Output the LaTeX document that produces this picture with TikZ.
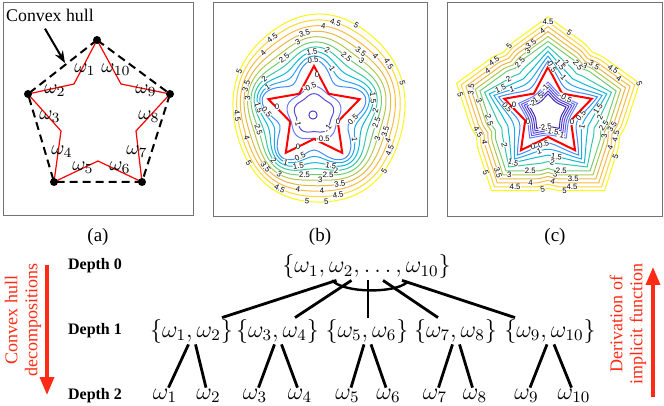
\documentclass[tikz,border=0pt]{standalone}
\usepackage{fontspec}
\setmainfont{Liberation Serif}
\newfontfamily\labfont{Liberation Sans}
\usetikzlibrary{calc,arrows.meta}
\definecolor{hred}{rgb}{1,0.17,0.08}
\definecolor{c1}{rgb}{0.25,0.55,0.98}
\definecolor{c2}{rgb}{0.12,0.65,0.92}
\definecolor{c3}{rgb}{0.05,0.73,0.82}
\definecolor{c4}{rgb}{0.20,0.78,0.65}
\definecolor{c5}{rgb}{0.45,0.80,0.45}
\definecolor{c6}{rgb}{0.70,0.78,0.30}
\definecolor{c7}{rgb}{0.90,0.72,0.28}
\definecolor{c8}{rgb}{0.99,0.73,0.25}
\definecolor{c9}{rgb}{0.99,0.85,0.18}
\definecolor{c10}{rgb}{0.98,0.97,0.08}
\definecolor{m1}{rgb}{0.42,0.48,1.00}
\definecolor{m2}{rgb}{0.38,0.38,0.95}
\definecolor{m3}{rgb}{0.33,0.30,0.88}
\definecolor{m4}{rgb}{0.30,0.22,0.80}
\definecolor{m5}{rgb}{0.26,0.16,0.70}
\tikzset{
  cline/.style={line width=0.5pt},
  clab/.style={font=\labfont\fontsize{3.9}{3.9}\selectfont, fill=white, inner sep=0.1pt},
  frame/.style={draw=black!55, line width=0.5pt},
  starline/.style={draw=red, line width=1pt, line join=miter},
  tedge/.style={line width=1.4pt},
  tmath/.style={font=\fontsize{11.5}{13}\selectfont, inner sep=0.5pt},
  amath/.style={font=\fontsize{9.8}{11}\selectfont, inner sep=0pt},
  depthlab/.style={font=\bfseries\fontsize{8}{9}\selectfont},
  sublab/.style={font=\fontsize{9.5}{11}\selectfont},
  htext/.style={font=\fontsize{8.9}{10}\selectfont, inner sep=1pt},
  hullarrow/.style={line width=1pt, -{Stealth[length=6pt,width=4.5pt]}},
  redarrow/.style={draw=hred, line width=1.8pt, -{Triangle[length=9pt,width=7pt]}},
  redtext/.style={text=hred, font=\fontsize{9}{10}\selectfont, align=center, rotate=90},
}
\newcommand\clab[5]{%
  \pgfmathsetmacro\tanx{#1(#3,#4+3)-#1(#3,#4-3)}%
  \pgfmathsetmacro\tany{#2(#3,#4-3)-#2(#3,#4+3)}%
  \pgfmathsetmacro\lang{atan2(\tany,\tanx)}%
  \pgfmathsetmacro\lang{\lang>90 ? \lang-180 : (\lang<-90 ? \lang+180 : \lang)}%
  \node[clab,rotate=\lang] at ({#1(#3,#4)},{#2(#3,#4)}) {#5};%
}
\newcommand\starshape[4]{%
  \draw[starline] ({#1},{#2-#3}) \foreach \ii in {1,...,9} { -- ({#1+(isodd(\ii)?#4:#3)*cos(90+36*\ii)},{#2-(isodd(\ii)?#4:#3)*sin(90+36*\ii)}) } -- cycle;%
}
\begin{document}
\begin{tikzpicture}[x=0.5pt,y=-0.5pt,
  declare function={
    rb(\k,\p)=(45+5*(\k-1))*(1+0.2*pow(0.72,\k-1)*cos(5*(\p-90)));
    bx(\k,\p)=314+5*(\k-1)/9+(1-0.045*(\k-1)/9)*rb(\k,\p)*cos(\p);
    by(\k,\p)=114-5*(\k-1)/9-(1+0.045*(\k-1)/9)*rb(\k,\p)*sin(\p);
    ir(\q,\p)=\q*(1+0.07*cos(5*(\p-90)));
    ibx(\q,\p)=314+ir(\q,\p)*cos(\p);
    iby(\q,\p)=114-ir(\q,\p)*sin(\p);
    cu(\p)=mod(\p+630,72)-36;
    rc(\k,\p)=(52+4.9*(\k-1))*0.809/cos(cu(\p))*(1-max(0,0.28-0.07*(\k-1))*cos(2.5*cu(\p)))-2.5*min(1,max(0,(\k-2)/3))*max(0,1-abs(cu(\p))/8);
    cx(\k,\p)=548+rc(\k,\p)*cos(\p);
    cy(\k,\p)=113-rc(\k,\p)*sin(\p);
    icr(\q,\p)=\q*0.809/cos(cu(\p))*(1-0.12*cos(2.5*cu(\p)));
    icx(\q,\p)=548+icr(\q,\p)*cos(\p);
    icy(\q,\p)=113-icr(\q,\p)*sin(\p);
  }]
\useasboundingbox (0,0) rectangle (664,406);

% ---------------- panel (a)
\draw[frame] (3,3) rectangle (193,216);
\coordinate (pT) at (97,40);
\coordinate (pL) at (28,94);
\coordinate (pR) at (170,94);
\coordinate (pBL) at (54,182);
\coordinate (pBR) at (142,182);
\coordinate (i1) at (74,84);
\coordinate (i2) at (61,131);
\coordinate (i3) at (98,161);
\coordinate (i4) at (136,131);
\coordinate (i5) at (121,84);
\draw[red, line width=0.6pt] (pT)--(i1)--(pL)--(i2)--(pBL)--(i3)--(pBR)--(i4)--(pR)--(i5)--cycle;
\draw[line width=1pt, dash pattern=on 4pt off 2.5pt] (pT)--(pL)--(pBL)--(pBR)--(pR)--cycle;
\foreach \pt in {pT,pL,pR,pBL,pBR} \fill (\pt) circle[radius=2pt];
\node[amath] (wa1) at (85,70) {$\omega_1$};
\node[amath] (wa10) at (116,70) {$\omega_{10}$};
\node[amath] (wa2) at (55,91) {$\omega_2$};
\node[amath] (wa9) at (146,91) {$\omega_9$};
\node[amath] (wa3) at (50,117) {$\omega_3$};
\node[amath] (wa8) at (149,117) {$\omega_8$};
\node[amath] (wa4) at (62,152) {$\omega_4$};
\node[amath] (wa7) at (137,152) {$\omega_7$};
\node[amath] (wa5) at (83,168) {$\omega_5$};
\node[amath] (wa6) at (120,168) {$\omega_6$};
\node[htext] (cht) at (50,15) {Convex hull};
\coordinate (chtip) at (65,63);
\draw[hullarrow] ($(cht.south)+(-5,5)$) -- (chtip);

% ---------------- panel (b)
\draw[frame] (213,3) rectangle (427,217);
\foreach \KK/\CC in {1/c1,2/c2,3/c3,4/c4,5/c5,6/c6,7/c7,8/c8,9/c9,10/c10}
  \draw[cline,\CC] plot[smooth cycle, variable=\vv, domain=0:354, samples=60] ({bx(\KK,\vv)},{by(\KK,\vv)});
\draw[cline,m1] plot[smooth cycle, variable=\vv, domain=0:354, samples=60] ({ibx(26,\vv)},{iby(26,\vv)});
\draw[cline,m3] plot[smooth cycle, variable=\vv, domain=0:354, samples=60] ({ibx(19,\vv)},{iby(19,\vv)});
\draw[cline,m4] plot[smooth cycle, variable=\vv, domain=0:330, samples=12] ({313+4*cos(\vv)},{115-4*sin(\vv)});
\starshape{314}{114}{48}{25}
\foreach \KK/\PP/\TT in {10/64/5,10/157/5,10/16/5,10/215/5,10/319/5,10/262/5,10/275/5,
  9/78/4.5,9/125/4.5,9/184/4.5,9/31/4.5,9/332/4.5,9/242/4.5,9/284/4.5,
  8/86/4,8/200/4,8/41/4,8/273/4,8/255/4,8/338/4,8/136/4,
  7/100/3.5,7/52/3.5,7/162/3.5,7/226/3.5,7/288/3.5,7/344/3.5,
  6/106/3,6/47/3,6/170/3,6/238/3,6/273/3,6/337/3,
  5/122/2.5,5/60/2.5,5/197/2.5,5/259/2.5,5/281/2.5,5/350/2.5,
  4/79/2,4/148/2,4/228/2,4/290/2,4/2/2,
  3/93/1.5,3/175/1.5,3/14/1.5,3/252/1.5,3/287/1.5,
  2/68/1,2/151/1,2/327/1,2/239/1,
  1/91/0.5,1/177/0.5,1/352/0.5,1/252/0.5}
  {\clab{bx}{by}{\KK}{\PP}{\TT}}
\clab{ibx}{iby}{26}{99}{-0.5}
\clab{ibx}{iby}{26}{290}{-0.5}
\clab{ibx}{iby}{19}{208}{-1}
\clab{ibx}{iby}{19}{313}{-1}
\foreach \XX/\YY in {317/75,277/107,338/122,298/147}
  \node[clab] at (\XX,\YY) {0};

% ---------------- panel (c)
\draw[frame] (447,3) rectangle (662,217);
\foreach \KK/\CC in {1/c1,2/c2,3/c3,4/c4,5/c5,6/c6,7/c7,8/c8,9/c9,10/c10}
  \draw[cline,\CC] plot[variable=\vv, domain=0:357, samples=120] ({cx(\KK,\vv)},{cy(\KK,\vv)}) -- cycle;
\foreach \QQ/\CC in {31/m1,28/m2,25/m3,22/m4,19/m5}
  \draw[cline,\CC] plot[variable=\vv, domain=0:357, samples=120] ({icx(\QQ,\vv)},{icy(\QQ,\vv)}) -- cycle;
\starshape{548}{113}{46}{24}
\foreach \KK/\PP/\TT in {10/120/5,10/75/5,10/168/5,10/18/5,10/327/5,10/224/5,10/266/5,10/282/5,
  9/90/4.5,9/136/4.5,9/34/4.5,9/195/4.5,9/341/4.5,9/246/4.5,9/288/4.5,
  8/94/4,8/145/4,8/26/4,8/205/4,8/331/4,8/256/4,8/274/4,
  7/104/3.5,7/46/3.5,7/163/3.5,7/230/3.5,7/291/3.5,7/348/3.5,
  6/108/3,6/52/3,6/170/3,6/238/3,6/277/3,6/338/3,
  5/119/2.5,5/58/2.5,5/187/2.5,5/253/2.5,5/283/2.5,5/347/2.5,
  4/139/2,4/70/2,4/216/2,4/275/2,4/355/2,
  3/153/1.5,3/76/1.5,3/235/1.5,3/281/1.5,3/5/1.5,
  2/147/1,2/66/1,2/257/1,2/338/1,
  1/85/0.5,1/172/0.5,1/355/0.5,1/262/0.5}
  {\clab{cx}{cy}{\KK}{\PP}{\TT}}
\clab{icx}{icy}{31}{41}{-0.5}
\clab{icx}{icy}{28}{97}{-1}
\clab{icx}{icy}{28}{300}{-1}
\clab{icx}{icy}{25}{128}{-1.5}
\clab{icx}{icy}{25}{282}{-1.5}
\clab{icx}{icy}{22}{150}{-2}
\clab{icx}{icy}{19}{258}{-2.5}
\foreach \XX/\YY in {514/105,528/122,572/122,533/147}
  \node[clab] at (\XX,\YY) {0};

% ---------------- sub labels
\node[sublab] (la) at (98,237) {(a)};
\node[sublab] (lb) at (320,237) {(b)};
\node[sublab] (lc) at (555,237) {(c)};

% ---------------- tree
\node[depthlab] (d0) at (95,266) {Depth 0};
\node[depthlab] (d1) at (95,331) {Depth 1};
\node[depthlab] (d2) at (95,396) {Depth 2};

\node[tmath] (root) at (366.5,267) {$\{\omega_1,\omega_2,\ldots,\omega_{10}\}$};
\node[tmath] (n12) at (191.5,331) {$\{\omega_1,\omega_2\}$};
\node[tmath] (n34) at (277.5,331) {$\{\omega_3,\omega_4\}$};
\node[tmath] (n56) at (367,331) {$\{\omega_5,\omega_6\}$};
\node[tmath] (n78) at (455.5,331) {$\{\omega_7,\omega_8\}$};
\node[tmath] (n910) at (550,331) {$\{\omega_9,\omega_{10}\}$};
\node[tmath] (l1) at (165,396) {$\omega_1$};
\node[tmath] (l2) at (208.5,396) {$\omega_2$};
\node[tmath] (l3) at (255,396) {$\omega_3$};
\node[tmath] (l4) at (300,396) {$\omega_4$};
\node[tmath] (l5) at (347.5,396) {$\omega_5$};
\node[tmath] (l6) at (388.5,396) {$\omega_6$};
\node[tmath] (l7) at (435,396) {$\omega_7$};
\node[tmath] (l8) at (475,396) {$\omega_8$};
\node[tmath] (l9) at (526.5,396) {$\omega_9$};
\node[tmath] (l10) at (574,396) {$\omega_{10}$};

\draw[tedge] ($(root.south)+(-30,0)$) -- ($(n12.north)+(30.5,0)$);
\draw[tedge] ($(root.south)+(-15,0)$) -- ($(n34.north)+(17.5,0)$);
\draw[tedge] ($(root.south)+(1.5,0)$) -- ($(n56.north)+(1,0)$);
\draw[tedge] ($(root.south)+(16.5,0)$) -- ($(n78.north)+(-17.5,0)$);
\draw[tedge] ($(root.south)+(35.5,0)$) -- ($(n910.north)+(-35,0)$);
\draw[line width=1.2pt] ($(root.south)+(-34.5,0)$) .. controls ($(root.south)+(-22,13)$) and ($(root.south)+(28,13)$) .. ($(root.south)+(40.5,2)$);

\foreach \PA/\CL/\CR in {n12/l1/l2,n34/l3/l4,n56/l5/l6,n78/l7/l8,n910/l9/l10}{
  \draw[tedge] ($(\PA.south)+(-3,0)$) -- ($(\CL.north)+(3.5,0)$);
  \draw[tedge] ($(\PA.south)+(4,0)$) -- ($(\CR.north)+(-2.5,0)$);
}

% ---------------- red arrows
\coordinate (lat) at (47,265);
\coordinate (lah) at (47,395);
\draw[redarrow] (lat) -- (lah);
\coordinate (rat) at (653,397);
\coordinate (rah) at (653,267);
\draw[redarrow] (rat) -- (rah);
\node[redtext] (ltx) at (23,320) {Convex hull\\decompositions};
\node[redtext] (rtx) at (628,324) {Derivation of\\implicit function};
\end{tikzpicture}
\end{document}
